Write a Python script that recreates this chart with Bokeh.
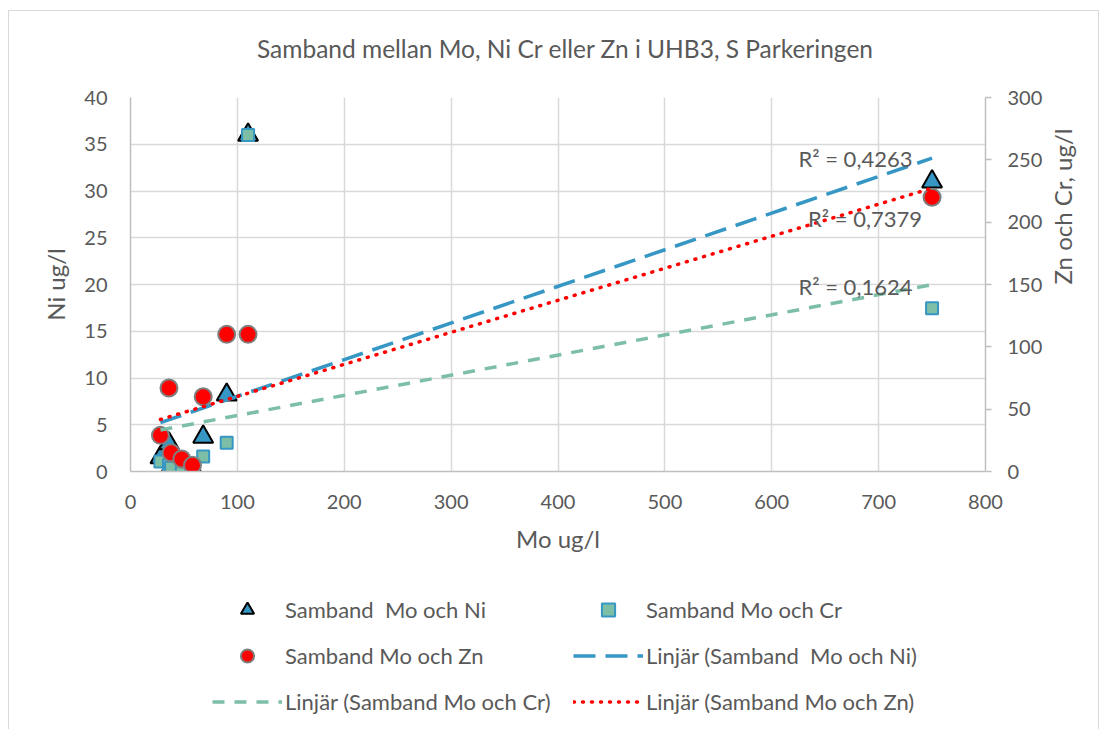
import math
import numpy as np
from bokeh.plotting import figure
from bokeh.layouts import column
from bokeh.models import Range1d, LinearAxis, SingleIntervalTicker, Legend, LegendItem, ColumnDataSource
from bokeh.core.properties import value
from bokeh.embed import file_html
from bokeh.resources import INLINE

# ---- data ----
mo = [28, 36, 38, 48, 58, 68, 90, 110, 750]
ni = [1.5, 3.0, 0.5, 1.0, 0.3, 3.7, 8.2, 36.0, 31.0]
cr = [8, 5, 3, 3, 2, 12, 23, 270, 131]
zn = [29, 67, 15, 10, 5, 60, 110, 110, 220]
r2_labels = ["R² = 0,4263", "R² = 0,7379", "R² = 0,1624"]
x_ticks = [0, 100, 200, 300, 400, 500, 600, 700, 800]
series_names = ["Samband  Mo och Ni", "Samband Mo och Cr", "Samband Mo och Zn"]
trend_names = ["Linjär (Samband  Mo och Ni)", "Linjär (Samband Mo och Cr)", "Linjär (Samband Mo och Zn)"]
title = "Samband mellan Mo, Ni Cr eller Zn i UHB3, S Parkeringen"

FONT = "Lato"
TXT = "#595959"
BLUE = "#3797c4"
GREEN = "#7dbfa6"
RED = "#ff0000"
GRID = "#d9d9d9"
AXIS = "#bfbfbf"

TRI = dict(marker="triangle", fill_color=BLUE, line_color="black", line_width=2)
SQ = dict(marker="square", fill_color=GREEN, line_color=BLUE, line_width=2)
CI = dict(marker="circle", fill_color=RED, line_color="#7f7f7f", line_width=2)
L_NI = dict(line_color=BLUE, line_width=3.5, line_dash="22 10")
L_CR = dict(line_color=GREEN, line_width=3.5, line_dash="12 10")
L_ZN = dict(line_color=RED, line_width=3.5, line_dash="1 8", line_cap="round")

# ---- title strip ----
pt = figure(width=1089, height=66, x_range=Range1d(0, 855), y_range=Range1d(0, 66),
            output_backend="svg", toolbar_location=None, x_axis_type=None, y_axis_type=None,
            min_border=0)
pt.outline_line_color = None
pt.grid.visible = False
pt.text(x=[435], y=[29], text=[title], text_font=value(FONT), text_font_size="24.5px",
        text_color=TXT, text_align="center", text_baseline="middle")

# ---- main chart ----
p = figure(width=1089, height=494, x_range=Range1d(0, 800), y_range=Range1d(0, 40),
           output_backend="svg", toolbar_location=None,
           min_border_left=121, min_border_right=113, min_border_top=20, min_border_bottom=100)
p.outline_line_color = None
p.background_fill_color = "white"
p.border_fill_color = "white"

p.extra_y_ranges = {"right": Range1d(0, 300)}
ax_r = LinearAxis(y_range_name="right", ticker=SingleIntervalTicker(interval=50),
                  axis_label="Zn och Cr, ug/l")
p.add_layout(ax_r, "right")

p.xaxis.ticker = x_ticks
p.yaxis[0].ticker = SingleIntervalTicker(interval=5)
p.xaxis.axis_label = "Mo ug/l"
p.yaxis[0].axis_label = "Ni ug/l"

for ax in [p.xaxis[0], p.yaxis[0], ax_r]:
    ax.axis_line_color = AXIS
    ax.axis_line_width = 1.5
    ax.major_tick_line_color = AXIS
    ax.major_tick_line_width = 1.5
    ax.major_tick_in = 0
    ax.major_tick_out = 0
    ax.minor_tick_line_color = None
    ax.major_label_text_font = FONT
    ax.major_label_text_font_size = "20px"
    ax.major_label_text_color = TXT
    ax.axis_label_text_font = FONT
    ax.axis_label_text_font_size = "24px"
    ax.axis_label_text_font_style = "normal"
    ax.axis_label_text_color = TXT
ax_r.major_tick_out = 6
p.yaxis[0].major_label_standoff = 19
p.yaxis[0].axis_label_standoff = 11
p.xaxis.major_label_standoff = 23
p.xaxis.axis_label_standoff = 12
ax_r.major_label_standoff = 16
ax_r.axis_label_standoff = 17
if hasattr(ax_r, "axis_label_orientation"):
    ax_r.axis_label_orientation = math.pi / 2

p.xgrid.grid_line_color = GRID
p.xgrid.grid_line_width = 1.5
p.xgrid.ticker = x_ticks
p.ygrid.grid_line_color = GRID
p.ygrid.grid_line_width = 1.5
p.ygrid[0].ticker = SingleIntervalTicker(interval=5)

# markers
p.scatter(mo, ni, size=20, **TRI)
p.scatter(mo, cr, size=12, y_range_name="right", **SQ)
p.scatter(mo, zn, size=17, y_range_name="right", **CI)

# linear trendlines (least squares from the data)
xs = np.array([min(mo), max(mo)], dtype=float)
k, b = np.polyfit(mo, ni, 1)
p.line(xs, k * xs + b, **L_NI)
k, b = np.polyfit(mo, cr, 1)
p.line(xs, k * xs + b, y_range_name="right", **L_CR)
k, b = np.polyfit(mo, zn, 1)
p.line(xs, k * xs + b, y_range_name="right", **L_ZN)

p.text(x=[625, 634, 625], y=[33.5, 27.06, 19.8], text=r2_labels,
       text_font=value(FONT), text_font_size="22px", text_color=TXT,
       text_align="left", text_baseline="middle")

# ---- legend strip (same glyph styles; NaN data so only the legend shows them) ----
pl = figure(width=1089, height=160, x_range=Range1d(0, 1), y_range=Range1d(0, 1),
            output_backend="svg", toolbar_location=None, x_axis_type=None, y_axis_type=None,
            min_border=0)
pl.outline_line_color = None
pl.grid.visible = False
pl.border_fill_color = "white"
nan_src = ColumnDataSource(data=dict(x=[float("nan")], y=[float("nan")]))
g_tri = pl.scatter("x", "y", source=nan_src, size=13, **TRI)
g_sq = pl.scatter("x", "y", source=nan_src, size=10, **SQ)
g_ci = pl.scatter("x", "y", source=nan_src, size=14, **CI)
g_ni = pl.line("x", "y", source=nan_src, **L_NI)
g_cr = pl.line("x", "y", source=nan_src, **L_CR)
g_zn = pl.line("x", "y", source=nan_src, **L_ZN)

legend = Legend(items=[LegendItem(label=series_names[0], renderers=[g_tri]),
                       LegendItem(label=series_names[1], renderers=[g_sq]),
                       LegendItem(label=series_names[2], renderers=[g_ci]),
                       LegendItem(label=trend_names[0], renderers=[g_ni]),
                       LegendItem(label=trend_names[1], renderers=[g_cr]),
                       LegendItem(label=trend_names[2], renderers=[g_zn])],
                location=(82, 13), orientation="horizontal", ncols=2,
                glyph_width=70, glyph_height=33, label_height=33, label_width=275,
                spacing=13, label_standoff=3, padding=0, margin=0,
                border_line_alpha=0, background_fill_alpha=0,
                label_text_font=FONT, label_text_font_size="22px", label_text_color=TXT)
pl.add_layout(legend)

layout = column(pt, p, pl, spacing=0,
                styles={"border": "1px solid #d9d9d9", "margin-left": "8px", "margin-top": "10px"})

open("out.html", "w").write(file_html(layout, INLINE))
